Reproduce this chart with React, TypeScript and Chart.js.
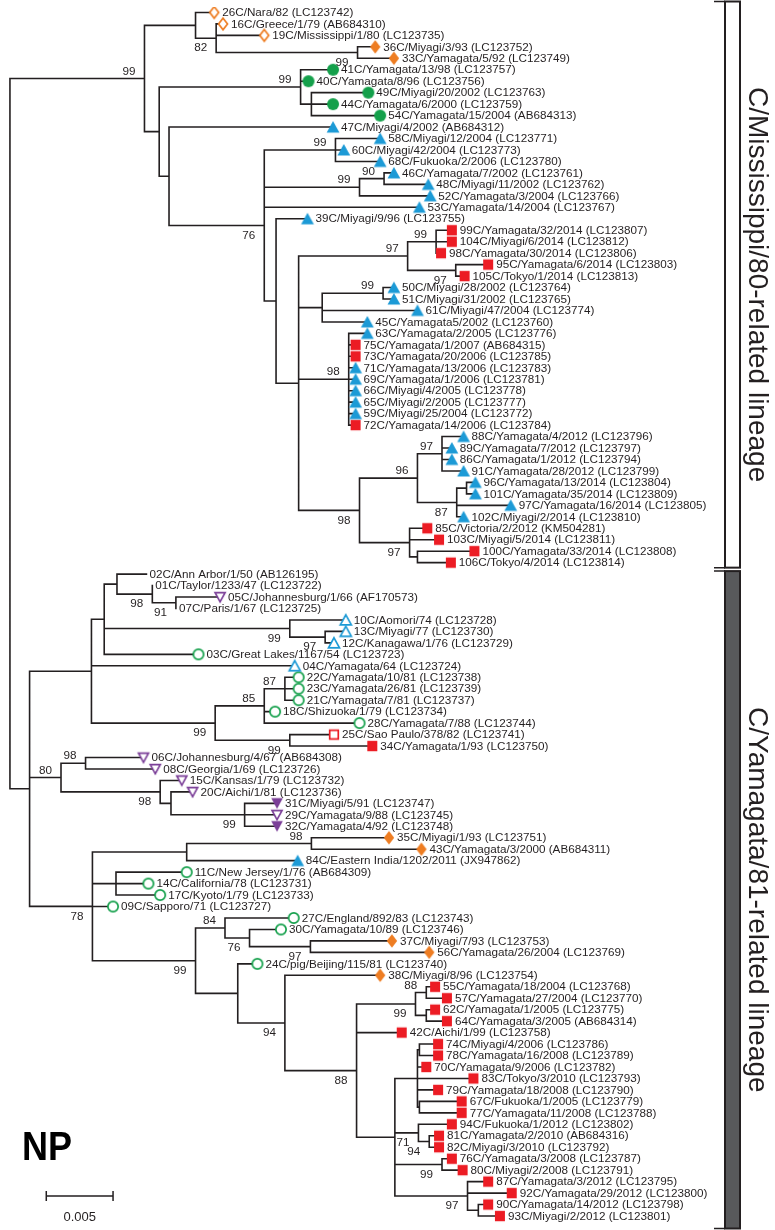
import React, { useEffect, useRef } from "react";
import { Chart, registerables } from "chart.js";
Chart.register(...registerables);

// ---------------- data ----------------
const LEAF_LABELS = [
  "26C/Nara/82 (LC123742)", "16C/Greece/1/79 (AB684310)", "19C/Mississippi/1/80 (LC123735)",
  "36C/Miyagi/3/93 (LC123752)", "33C/Yamagata/5/92 (LC123749)", "41C/Yamagata/13/98 (LC123757)",
  "40C/Yamagata/8/96 (LC123756)", "49C/Miyagi/20/2002 (LC123763)", "44C/Yamagata/6/2000 (LC123759)",
  "54C/Yamagata/15/2004 (AB684313)", "47C/Miyagi/4/2002 (AB684312)", "58C/Miyagi/12/2004 (LC123771)",
  "60C/Miyagi/42/2004 (LC123773)", "68C/Fukuoka/2/2006 (LC123780)", "46C/Yamagata/7/2002 (LC123761)",
  "48C/Miyagi/11/2002 (LC123762)", "52C/Yamagata/3/2004 (LC123766)", "53C/Yamagata/14/2004 (LC123767)",
  "39C/Miyagi/9/96 (LC123755)", "99C/Yamagata/32/2014 (LC123807)", "104C/Miyagi/6/2014 (LC123812)",
  "98C/Yamagata/30/2014 (LC123806)", "95C/Yamagata/6/2014 (LC123803)", "105C/Tokyo/1/2014 (LC123813)",
  "50C/Miyagi/28/2002 (LC123764)", "51C/Miyagi/31/2002 (LC123765)", "61C/Miyagi/47/2004 (LC123774)",
  "45C/Yamagata5/2002 (LC123760)", "63C/Yamagata/2/2005 (LC123776)", "75C/Yamagata/1/2007 (AB684315)",
  "73C/Yamagata/20/2006 (LC123785)", "71C/Yamagata/13/2006 (LC123783)", "69C/Yamagata/1/2006 (LC123781)",
  "66C/Miyagi/4/2005 (LC123778)", "65C/Miyagi/2/2005 (LC123777)", "59C/Miyagi/25/2004 (LC123772)",
  "72C/Yamagata/14/2006 (LC123784)", "88C/Yamagata/4/2012 (LC123796)", "89C/Yamagata/7/2012 (LC123797)",
  "86C/Yamagata/1/2012 (LC123794)", "91C/Yamagata/28/2012 (LC123799)", "96C/Yamagata/13/2014 (LC123804)",
  "101C/Yamagata/35/2014 (LC123809)", "97C/Yamagata/16/2014 (LC123805)", "102C/Miyagi/2/2014 (LC123810)",
  "85C/Victoria/2/2012 (KM504281)", "103C/Miyagi/5/2014 (LC123811)", "100C/Yamagata/33/2014 (LC123808)",
  "106C/Tokyo/4/2014 (LC123814)",
  "02C/Ann Arbor/1/50 (AB126195)", "01C/Taylor/1233/47 (LC123722)", "05C/Johannesburg/1/66 (AF170573)",
  "07C/Paris/1/67 (LC123725)", "10C/Aomori/74 (LC123728)", "13C/Miyagi/77 (LC123730)",
  "12C/Kanagawa/1/76 (LC123729)", "03C/Great Lakes/1167/54 (LC123723)", "04C/Yamagata/64 (LC123724)",
  "22C/Yamagata/10/81 (LC123738)", "23C/Yamagata/26/81 (LC123739)", "21C/Yamagata/7/81 (LC123737)",
  "18C/Shizuoka/1/79 (LC123734)", "28C/Yamagata/7/88 (LC123744)", "25C/Sao Paulo/378/82 (LC123741)",
  "34C/Yamagata/1/93 (LC123750)", "06C/Johannesburg/4/67 (AB684308)", "08C/Georgia/1/69 (LC123726)",
  "15C/Kansas/1/79 (LC123732)", "20C/Aichi/1/81 (LC123736)", "31C/Miyagi/5/91 (LC123747)",
  "29C/Yamagata/9/88 (LC123745)", "32C/Yamagata/4/92 (LC123748)", "35C/Miyagi/1/93 (LC123751)",
  "43C/Yamagata/3/2000 (AB684311)", "84C/Eastern India/1202/2011 (JX947862)", "11C/New Jersey/1/76 (AB684309)",
  "14C/California/78 (LC123731)", "17C/Kyoto/1/79 (LC123733)", "09C/Sapporo/71 (LC123727)",
  "27C/England/892/83 (LC123743)", "30C/Yamagata/10/89 (LC123746)", "37C/Miyagi/7/93 (LC123753)",
  "56C/Yamagata/26/2004 (LC123769)", "24C/pig/Beijing/115/81 (LC123740)", "38C/Miyagi/8/96 (LC123754)",
  "55C/Yamagata/18/2004 (LC123768)", "57C/Yamagata/27/2004 (LC123770)", "62C/Yamagata/1/2005 (LC123775)",
  "64C/Yamagata/3/2005 (AB684314)", "42C/Aichi/1/99 (LC123758)", "74C/Miyagi/4/2006 (LC123786)",
  "78C/Yamagata/16/2008 (LC123789)", "70C/Yamagata/9/2006 (LC123782)", "83C/Tokyo/3/2010 (LC123793)",
  "79C/Yamagata/18/2008 (LC123790)", "67C/Fukuoka/1/2005 (LC123779)", "77C/Yamagata/11/2008 (LC123788)",
  "94C/Fukuoka/1/2012 (LC123802)", "81C/Yamagata/2/2010 (AB684316)", "82C/Miyagi/3/2010 (LC123792)",
  "76C/Yamagata/3/2008 (LC123787)", "80C/Miyagi/2/2008 (LC123791)", "87C/Yamagata/3/2012 (LC123795)",
  "92C/Yamagata/29/2012 (LC123800)", "90C/Yamagata/14/2012 (LC123798)", "93C/Miyagi/2/2012 (LC123801)",
];

// d = orange diamond, c = green circle, t = blue triangle, s = red square, v = purple inverted triangle
// F = filled, O = open, "" = no symbol
const LEAF_MARKERS = [
  "dO", "dO", "dO", "dF", "dF", "cF", "cF", "cF", "cF", "cF",
  "tF", "tF", "tF", "tF", "tF", "tF", "tF", "tF", "tF", "sF",
  "sF", "sF", "sF", "sF", "tF", "tF", "tF", "tF", "tF", "sF",
  "sF", "tF", "tF", "tF", "tF", "tF", "sF", "tF", "tF", "tF",
  "tF", "tF", "tF", "tF", "tF", "sF", "sF", "sF", "sF",
  "", "", "vO", "", "tO", "tO", "tO", "cO", "tO", "cO",
  "cO", "cO", "cO", "cO", "sO", "sF", "vO", "vO", "vO", "vO",
  "vF", "vO", "vF", "dF", "dF", "tF", "cO", "cO", "cO", "cO",
  "cO", "cO", "dF", "dF", "cO", "dF", "sF", "sF", "sF", "sF",
  "sF", "sF", "sF", "sF", "sF", "sF", "sF", "sF", "sF", "sF",
  "sF", "sF", "sF", "sF", "sF", "sF", "sF",
];

// tip depth of every leaf (tree units; SCALE_UNITS units = 0.005 substitutions/site)
const LEAF_DEPTH = [
  211, 220, 262, 375, 394, 332, 307, 368, 332, 380,
  332, 380, 343, 380, 394, 429, 431, 420, 306, 453,
  453, 442, 490, 466, 394, 394, 418, 367, 367, 355,
  355, 355, 355, 355, 355, 355, 355, 465, 453, 453,
  465, 477, 477, 513, 465, 428, 440, 476, 452,
  142, 148, 217, 172, 345, 345, 333, 195, 293, 297,
  297, 297, 273, 359, 333, 372, 139, 151, 178, 189,
  275, 275, 275, 389, 422, 296, 183, 144, 156, 108,
  292, 279, 392, 430, 255, 380, 436, 448, 436, 448,
  402, 439, 439, 427, 475, 439, 463, 463, 453, 440,
  440, 453, 464, 490, 514, 490, 502,
];

// Topology (Newick): leaves = index into the arrays above, internal nodes = ")bootstrap:depth".
// A trailing "_" on a bootstrap means it is printed under the branch.
const MISS_G = "(((19,20,21)99:437,(22,23)97_:457)97:408,((24,25)99:383,26,27):321,(28,29,30,31,32,33,34,35,36)98:348,(((37,38,39,40)97:443,((41,42):468,43,44)87_:458)96:418,(45,46,(47,48):418)97_:410)98_:359):297";
const MISS_D = `((11,12,13)99:334.5,((14,15)90:384,16)99:359,17,(18,${MISS_G}):274)76_:262`;
const MISS_CLADE = `((0,(1,2,(3,4)99_:357)82_:213):192,((5,6,(7,8,9):310)99:299,(10,${MISS_D}):165):155)99:140`;

const YAM_P2 = "(((49,(50,(51,52)91_:172)98_:148):112,(53,(54,55)97_:324)99_:288,56):99,57,(((58,59,60)87:283,61,62)85:262,(63,64)99_:288)99_:212):86";
const YAM_PURPLE = "((65,66)98:80,(67,(68,(69,70,71)99_:242):167)98_:156)80:55";
const YAM_N71 = "(((90,91):420,92,93,94,(95,96):420):418,(97,(98,99)94_:430)71_:419,(100,101)99_:443,(102,103,(104,105):480)97_:469):395";
const YAM_N88 = `(((85,86)88:427,(87,88):427)99_:416,89,${YAM_N71})88_:356`;
const YAM_M = `(((72,73)98:310,74):183,(75,76,77):111,78,((79,(80,(81,82)97_:309)76_:247)84:222,(83,(84,${YAM_N88})94_:283):235)99_:192)78_:87`;
const YAM_CLADE = `(${YAM_P2},${YAM_PURPLE},${YAM_M}):23`;

const TREE = `(${MISS_CLADE},${YAM_CLADE}):3`;

const LINEAGES = ["C/Mississippi/80-related lineage", "C/Yamagata/81-related lineage"];
const SCALE_BAR_VALUE = 0.005;
const SCALE_BAR_LABEL = "0.005";
const SCALE_UNITS = 68; // tree units that equal SCALE_BAR_VALUE
const PANEL_TITLE = "NP";

// ---------------- styles ----------------
const FONT = '"Liberation Sans", Arial, Helvetica, sans-serif';
const INK = "#231f20";
const COLORS: Record<string, string> = {
  d: "#ee7d22",
  c: "#14a04b",
  t: "#1c9ad6",
  s: "#ec1c24",
  v: "#7b3f98",
};

type TNode = { leaf: number; depth: number; boot: string; below: boolean; children: TNode[]; y: number };

function parseNewick(s: string): TNode {
  let i = 0;
  const node = (): TNode => {
    const n: TNode = { leaf: -1, depth: 0, boot: "", below: false, children: [], y: 0 };
    if (s[i] === "(") {
      i++;
      n.children.push(node());
      while (s[i] === ",") {
        i++;
        n.children.push(node());
      }
      i++;
    }
    let label = "";
    while (i < s.length && !":,()".includes(s[i])) label += s[i++];
    let num = "";
    if (s[i] === ":") {
      i++;
      while (i < s.length && !",()".includes(s[i])) num += s[i++];
    }
    if (n.children.length) {
      n.depth = parseFloat(num);
      n.below = label.endsWith("_");
      n.boot = label.replace("_", "");
      n.y = (n.children[0].y + n.children[n.children.length - 1].y) / 2;
    } else {
      n.leaf = parseInt(label, 10);
      n.depth = LEAF_DEPTH[n.leaf];
      n.y = n.leaf;
    }
    return n;
  };
  return node();
}

function makeMarker(kind: string): HTMLCanvasElement {
  const c = document.createElement("canvas");
  c.width = 16;
  c.height = 16;
  const g = c.getContext("2d")!;
  const cx = 8, cy = 8;
  const filled = kind[1] === "F";
  const col = COLORS[kind[0]];
  const k = filled ? 1 : 0.86;
  g.beginPath();
  if (kind[0] === "d") {
    g.moveTo(cx, cy - 6.8 * k); g.lineTo(cx + 5.2 * k, cy); g.lineTo(cx, cy + 6.8 * k); g.lineTo(cx - 5.2 * k, cy); g.closePath();
  } else if (kind[0] === "c") {
    g.arc(cx, cy, 6 * k, 0, Math.PI * 2);
  } else if (kind[0] === "t") {
    g.moveTo(cx, cy - 6 * k); g.lineTo(cx + 6.4 * k, cy + 5.6 * k); g.lineTo(cx - 6.4 * k, cy + 5.6 * k); g.closePath();
  } else if (kind[0] === "v") {
    g.moveTo(cx - 5.8 * k, cy - 5.2 * k); g.lineTo(cx + 5.8 * k, cy - 5.2 * k); g.lineTo(cx, cy + 5.6 * k); g.closePath();
  } else {
    g.rect(cx - 5 * k, cy - 5.2 * k, 10 * k, 10.4 * k);
  }
  if (filled) {
    g.fillStyle = col;
    g.fill();
  } else {
    g.fillStyle = "#fff";
    g.fill();
    g.lineWidth = 1.7;
    g.strokeStyle = col;
    g.stroke();
  }
  return c;
}

export default function App() {
  const ref = useRef<HTMLCanvasElement>(null);

  useEffect(() => {
    const root = parseNewick(TREE);
    const segs: { x: number; y: number }[] = [];
    const internals: TNode[] = [];
    const walk = (n: TNode, parentDepth: number | null) => {
      if (parentDepth !== null) {
        segs.push({ x: parentDepth, y: n.y }, { x: n.depth, y: n.y }, { x: NaN, y: NaN });
      }
      if (n.children.length) {
        internals.push(n);
        segs.push(
          { x: n.depth, y: n.children[0].y },
          { x: n.depth, y: n.children[n.children.length - 1].y },
          { x: NaN, y: NaN }
        );
        n.children.forEach((c) => walk(c, n.depth));
      }
    };
    walk(root, null);
    const lineageSpans = root.children.map((c) => {
      let lo = Infinity, hi = -Infinity;
      const visit = (n: TNode) => {
        if (n.leaf >= 0) { lo = Math.min(lo, n.leaf); hi = Math.max(hi, n.leaf); }
        n.children.forEach(visit);
      };
      visit(c);
      return [lo, hi];
    });

    const kinds = Array.from(new Set(LEAF_MARKERS.filter((m) => m)));
    const markerSets = kinds.map((k) => ({
      type: "scatter" as const,
      label: k,
      data: LEAF_MARKERS.map((m, i) => (m === k ? { x: LEAF_DEPTH[i], y: i } : null)).filter(Boolean) as any[],
      pointStyle: makeMarker(k) as any,
      pointRadius: 6,
      pointHoverRadius: 6,
      order: 0,
    }));

    const textPlugin = {
      id: "treeText",
      afterDatasetsDraw(chart: any) {
        const { ctx } = chart;
        const xs = chart.scales.x;
        const ys = chart.scales.y;
        ctx.save();
        ctx.fillStyle = INK;
        ctx.font = `11.7px ${FONT}`;
        ctx.textBaseline = "middle";
        ctx.textAlign = "left";
        LEAF_LABELS.forEach((t, i) => {
          const px = xs.getPixelForValue(LEAF_DEPTH[i]) + (LEAF_MARKERS[i] ? 8 : 3);
          ctx.fillText(t, px, ys.getPixelForValue(i) + 0.5);
        });
        ctx.textAlign = "right";
        internals.forEach((n) => {
          if (!n.boot) return;
          const px = xs.getPixelForValue(n.depth) - 9;
          const py = ys.getPixelForValue(n.y) + (n.below ? 10 : -7);
          ctx.fillText(n.boot, px, py);
        });

        // lineage bars
        lineageSpans.forEach(([a, b], k) => {
          const top = k === 0 ? 1.5 : ys.getPixelForValue(a) - 3;
          const bot = k === 0 ? ys.getPixelForValue(b) + 5 : 1228.5;
          ctx.lineWidth = 2;
          ctx.strokeStyle = INK;
          ctx.fillStyle = k === 0 ? "#ffffff" : "#58595b";
          ctx.fillRect(725, top, 15, bot - top);
          ctx.strokeRect(725, top, 15, bot - top);
          ctx.lineWidth = 1.5;
          ctx.beginPath();
          ctx.moveTo(714, top); ctx.lineTo(725, top);
          ctx.moveTo(714, bot); ctx.lineTo(725, bot);
          ctx.stroke();
          ctx.save();
          ctx.translate(757, (top + bot) / 2);
          ctx.rotate(Math.PI / 2);
          ctx.fillStyle = INK;
          ctx.font = `28px ${FONT}`;
          ctx.textAlign = "center";
          ctx.textBaseline = "middle";
          ctx.fillText(LINEAGES[k], 0, 0);
          ctx.restore();
        });

        // panel title
        ctx.save();
        ctx.fillStyle = "#000";
        ctx.font = `bold 40px ${FONT}`;
        ctx.textAlign = "left";
        ctx.textBaseline = "alphabetic";
        ctx.translate(22, 1160);
        ctx.scale(0.9, 1);
        ctx.fillText(PANEL_TITLE, 0, 0);
        ctx.restore();

        // scale bar
        const x0 = xs.getPixelForValue(40);
        const x1 = xs.getPixelForValue(40 + SCALE_UNITS * (SCALE_BAR_VALUE / 0.005));
        const yb = 1196;
        ctx.strokeStyle = INK;
        ctx.lineWidth = 1.5;
        ctx.beginPath();
        ctx.moveTo(x0, yb); ctx.lineTo(x1, yb);
        ctx.moveTo(x0, yb - 5); ctx.lineTo(x0, yb + 5);
        ctx.moveTo(x1, yb - 5); ctx.lineTo(x1, yb + 5);
        ctx.stroke();
        ctx.fillStyle = INK;
        ctx.font = `13px ${FONT}`;
        ctx.textAlign = "center";
        ctx.textBaseline = "middle";
        ctx.fillText(SCALE_BAR_LABEL, (x0 + x1) / 2, 1217);
        ctx.restore();
      },
    };

    const chart = new Chart(ref.current!, {
      type: "scatter",
      data: {
        datasets: [
          ...markerSets,
          {
            type: "scatter" as const,
            label: "branches",
            data: segs,
            showLine: true,
            spanGaps: false,
            borderColor: INK,
            borderWidth: 1.6,
            borderCapStyle: "square",
            pointRadius: 0,
            pointHoverRadius: 0,
            order: 10,
          } as any,
        ],
      },
      options: {
        animation: false,
        responsive: false,
        events: [],
        layout: { padding: 0 },
        plugins: { legend: { display: false }, tooltip: { enabled: false } },
        scales: {
          x: { type: "linear", display: false, min: 0, max: 775 },
          y: { type: "linear", display: false, min: -0.4743, max: 105.61, reverse: true },
        },
      },
      plugins: [textPlugin],
    });
    return () => chart.destroy();
  }, []);

  return (
    <div style={{ position: "absolute", left: 0, top: 0, width: 775, height: 1230, background: "#fff" }}>
      <canvas ref={ref} width={775} height={1230} style={{ display: "block", width: 775, height: 1230 }} />
    </div>
  );
}
